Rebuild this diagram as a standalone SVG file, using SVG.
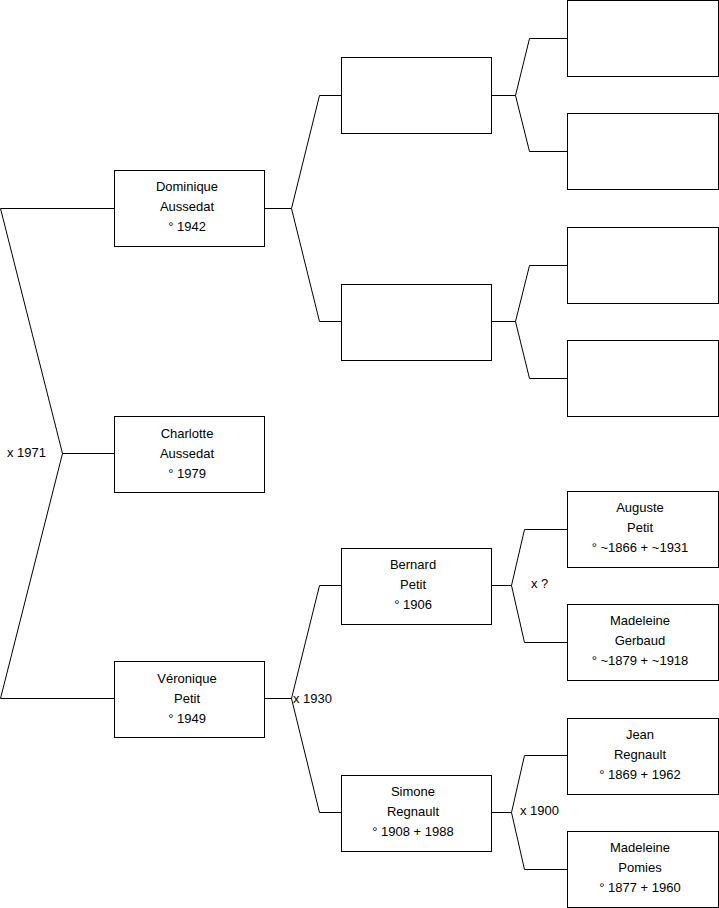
<svg xmlns="http://www.w3.org/2000/svg" width="719" height="908" viewBox="0 0 719 908">
<style>
.box{fill:#fff;stroke:#000;stroke-width:1}
.c{fill:none;stroke:#000;stroke-width:1}
text{font-family:"Liberation Sans",Arial,sans-serif;font-size:13px;fill:#000}
.m{text-anchor:middle}
</style>
<rect width="719" height="908" fill="#fff"/>
<g id="connectors" class="c">
<polyline points="114,208.5 0.5,208.5 62.5,453.5 0.5,698.5 114,698.5"/>
<line x1="62.5" y1="453.5" x2="114" y2="453.5"/>
<polyline points="341,95.5 319.5,95.5 291.5,208.5 319.5,321.5 341,321.5"/>
<line x1="265" y1="208.5" x2="291.5" y2="208.5"/>
<polyline points="341,585.5 319.5,585.5 291.5,698.5 319.5,812.5 341,812.5"/>
<line x1="265" y1="698.5" x2="291.5" y2="698.5"/>
<polyline points="567,38.5 529.5,38.5 515.5,95.5 529.5,151.5 567,151.5"/>
<line x1="492" y1="95.5" x2="515.5" y2="95.5"/>
<polyline points="567,265.5 529.5,265.5 515.5,321.5 529.5,378.5 567,378.5"/>
<line x1="492" y1="321.5" x2="515.5" y2="321.5"/>
<polyline points="567,529.5 524.5,529.5 511.5,585.5 524.5,642.5 567,642.5"/>
<line x1="492" y1="585.5" x2="511.5" y2="585.5"/>
<polyline points="567,755.5 524.5,755.5 511.5,812.5 524.5,869.5 567,869.5"/>
<line x1="492" y1="812.5" x2="511.5" y2="812.5"/>
</g>
<g id="labels">
<text x="7" y="457">x 1971</text>
<text x="293" y="703">x 1930</text>
<text x="531" y="588">x ?</text>
<text x="520" y="815">x 1900</text>
</g>
<g id="n-dominique"><rect class="box" x="114.5" y="170.5" width="150" height="76"/>
<text class="m" x="187" y="191">Dominique</text><text class="m" x="187" y="211">Aussedat</text><text class="m" x="187" y="231">° 1942</text></g>
<g id="n-charlotte"><rect class="box" x="114.5" y="416.5" width="150" height="76"/>
<text class="m" x="187" y="438">Charlotte</text><text class="m" x="187" y="458">Aussedat</text><text class="m" x="187" y="478">° 1979</text></g>
<g id="n-veronique"><rect class="box" x="114.5" y="661.5" width="150" height="76"/>
<text class="m" x="187" y="683">Véronique</text><text class="m" x="187" y="703">Petit</text><text class="m" x="187" y="723">° 1949</text></g>
<g id="n-g2a"><rect class="box" x="341.5" y="57.5" width="150" height="76"/></g>
<g id="n-g2b"><rect class="box" x="341.5" y="284.5" width="150" height="76"/></g>
<g id="n-bernard"><rect class="box" x="341.5" y="548.5" width="150" height="76"/>
<text class="m" x="413" y="569">Bernard</text><text class="m" x="413" y="589">Petit</text><text class="m" x="413" y="609">° 1906</text></g>
<g id="n-simone"><rect class="box" x="341.5" y="775.5" width="150" height="76"/>
<text class="m" x="413" y="796">Simone</text><text class="m" x="413" y="816">Regnault</text><text class="m" x="413" y="836">° 1908 + 1988</text></g>
<g id="n-g3a"><rect class="box" x="567.5" y="0.5" width="151" height="76"/></g>
<g id="n-g3b"><rect class="box" x="567.5" y="113.5" width="151" height="76"/></g>
<g id="n-g3c"><rect class="box" x="567.5" y="227.5" width="151" height="76"/></g>
<g id="n-g3d"><rect class="box" x="567.5" y="340.5" width="151" height="76"/></g>
<g id="n-auguste"><rect class="box" x="567.5" y="491.5" width="151" height="76"/>
<text class="m" x="640" y="512">Auguste</text><text class="m" x="640" y="532">Petit</text><text class="m" x="640" y="552">° ~1866 + ~1931</text></g>
<g id="n-madeleine-g"><rect class="box" x="567.5" y="604.5" width="151" height="76"/>
<text class="m" x="640" y="625">Madeleine</text><text class="m" x="640" y="645">Gerbaud</text><text class="m" x="640" y="665">° ~1879 + ~1918</text></g>
<g id="n-jean"><rect class="box" x="567.5" y="718.5" width="151" height="76"/>
<text class="m" x="640" y="739">Jean</text><text class="m" x="640" y="759">Regnault</text><text class="m" x="640" y="779">° 1869 + 1962</text></g>
<g id="n-madeleine-p"><rect class="box" x="567.5" y="831.5" width="151" height="76"/>
<text class="m" x="640" y="852">Madeleine</text><text class="m" x="640" y="872">Pomies</text><text class="m" x="640" y="892">° 1877 + 1960</text></g>
</svg>
